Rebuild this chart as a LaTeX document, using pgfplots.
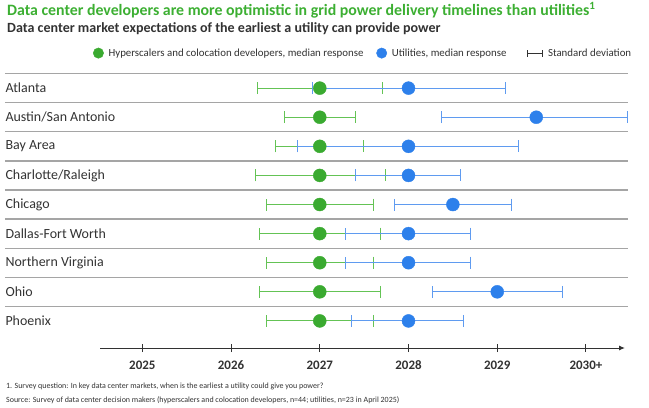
\documentclass[border=0pt]{standalone}
\usepackage{fontspec}
\setmainfont{Carlito}
\usepackage{pgfplots}
\usepackage{pgfplotstable}
\pgfplotsset{compat=1.18}
\usetikzlibrary{arrows.meta}
\definecolor{gdot}{RGB}{58,170,48}
\definecolor{gline}{RGB}{100,195,85}
\definecolor{bdot}{RGB}{45,128,235}
\definecolor{bline}{RGB}{95,155,240}
\definecolor{titlegreen}{RGB}{60,175,50}
\definecolor{txt}{RGB}{50,50,50}
\definecolor{sepc}{RGB}{165,165,165}

% y: Atlanta=8 ... Phoenix=0 ; x = median ; ep/em = distance to upper/lower end of std. dev.
\pgfplotstableread{
y x ep em
8 2027 0.71 0.70
7 2027 0.40 0.40
6 2027 0.49 0.50
5 2027 0.74 0.73
4 2027 0.60 0.60
3 2027 0.68 0.68
2 2027 0.60 0.60
1 2027 0.68 0.68
0 2027 0.60 0.60
}\hyper

\pgfplotstableread{
y x ep em
8 2028.00 1.09 1.08
7 2029.44 1.03 1.07
6 2028.00 1.24 1.25
5 2028.00 0.59 0.60
4 2028.50 0.66 0.66
3 2028.00 0.70 0.71
2 2028.00 0.70 0.71
1 2029.00 0.73 0.73
0 2028.00 0.62 0.64
}\util

\begin{document}
\begin{tikzpicture}
\useasboundingbox (0,0) rectangle (649bp,408bp);
\node[anchor=base west, inner sep=0, font=\bfseries\fontsize{15.9}{18}\selectfont, text=titlegreen] at (7bp,392bp)
  {Data center developers are more optimistic in grid power delivery timelines than utilities\textsuperscript{1}};
\node[anchor=base west, inner sep=0, font=\bfseries\fontsize{14.1}{16}\selectfont, text=txt] at (7bp,375bp)
  {Data center market expectations of the earliest a utility can provide power};
\node[anchor=base west, inner sep=0, font=\fontsize{8}{9}\selectfont, text=txt] at (6bp,20bp)
  {1. Survey question: In key data center markets, when is the earliest a utility could give you power?};
\node[anchor=base west, inner sep=0, font=\fontsize{8}{9}\selectfont, text=txt] at (6bp,6bp)
  {Source: Survey of data center decision makers (hyperscalers and colocation developers, n=44; utilities, n=23 in April 2025)};
\begin{axis}[
  at={(100bp,60bp)}, anchor=south west,
  scale only axis, width=525bp, height=274.4bp,
  xmin=2024.523, xmax=2030.44,
  ymin=-0.93, ymax=8.5,
  clip=false,
  axis x line=bottom,
  axis y line=left,
  x axis line style={draw=txt, line width=1pt, -{Latex[length=6bp,width=5bp]}},
  y axis line style={draw=none},
  xtick={2025,2026,2027,2028,2029,2030},
  xticklabels={2025,2026,2027,2028,2029,2030+},
  xticklabel style={font=\bfseries\fontsize{13}{15}\selectfont, text=txt, yshift=-5bp},
  x tick style={draw=txt, line width=1pt},
  tick align=center, major tick length=8bp,
  ytick={0,...,8},
  yticklabels={Phoenix,Ohio,Northern Virginia,Dallas-Fort Worth,Chicago,Charlotte/Raleigh,Bay Area,Austin/San Antonio,Atlanta},
  yticklabel style={anchor=west, xshift=-94bp, font=\fontsize{14}{16}\selectfont, text=txt},
  y tick style={draw=none},
  /pgf/number format/assume math mode=true,
  legend style={at={(axis description cs:-0.0137,1.0747)}, anchor=west, draw=none, fill=none,
    legend columns=3, font=\fontsize{10.9}{12}\selectfont, text=txt,
    /tikz/every odd column/.append style={column sep=2.8bp},
    /tikz/column 2/.style={column sep=10.8bp},
    /tikz/column 4/.style={column sep=19bp},
    /tikz/column 5/.style={column sep=3bp},
    inner sep=0pt},
  legend cell align=left,
]
\foreach \yy in {8.5,7.5,...,0.5}{
  \edef\temp{\noexpand\draw[sepc, line width=1.3pt] (axis cs:2023.452,\yy) -- (axis cs:2030.476,\yy);}
  \temp
}
\addlegendimage{legend image code/.code={\fill[gdot] (5.2bp,0bp) circle (5.2bp);}}
\addlegendentry{Hyperscalers and colocation developers, median response}
\addlegendimage{legend image code/.code={\fill[bdot] (5.2bp,0bp) circle (5.2bp);}}
\addlegendentry{Utilities, median response}
\addlegendimage{legend image code/.code={
  \draw[txt, line width=0.8pt] (0bp,0bp) -- (15bp,0bp);
  \draw[txt, line width=0.8pt] (0bp,-3.5bp) -- (0bp,3.5bp);
  \draw[txt, line width=0.8pt] (15bp,-3.5bp) -- (15bp,3.5bp);}}
\addlegendentry{Standard deviation}

\addplot[forget plot, draw=none, mark=none,
  error bars/.cd, x dir=both, x explicit, error mark=|,
  error bar style={draw=gline, line width=1.1pt},
  error mark options={draw=gline, line width=1pt, mark size=6bp}]
  table[x=x, y=y, x error plus=ep, x error minus=em] {\hyper};
\addplot[forget plot, draw=none, mark=none,
  error bars/.cd, x dir=both, x explicit, error mark=|,
  error bar style={draw=bline, line width=1.1pt},
  error mark options={draw=bline, line width=1pt, mark size=6bp}]
  table[x=x, y=y, x error plus=ep, x error minus=em] {\util};
\addplot[forget plot, only marks, mark=*, mark size=6.5bp, color=gdot] table[x=x, y=y] {\hyper};
\addplot[forget plot, only marks, mark=*, mark size=6.5bp, color=bdot] table[x=x, y=y] {\util};
\end{axis}
\end{tikzpicture}
\end{document}
